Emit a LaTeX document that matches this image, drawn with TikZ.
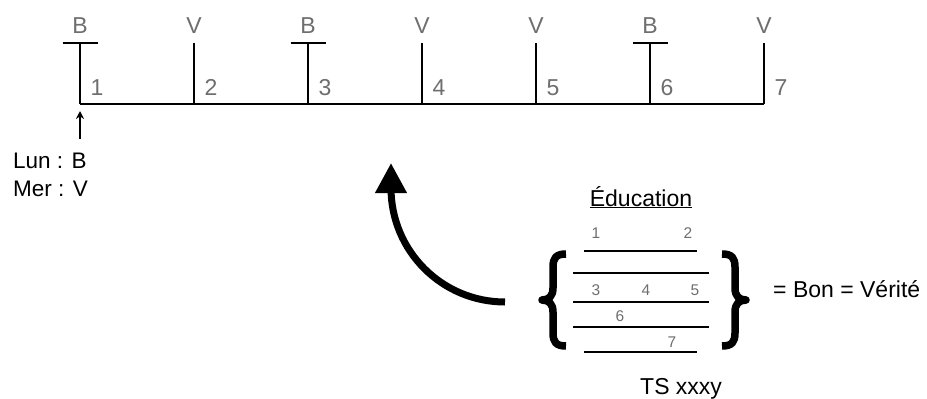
\documentclass[tikz,border=0pt]{standalone}
\usepackage{fontspec}
\setmainfont{Liberation Sans}
\usetikzlibrary{arrows.meta}
\definecolor{lbl}{HTML}{6E6E6E}
\begin{document}
\begin{tikzpicture}[x=1pt,y=-1pt,
  tl/.style={line width=1.6pt},
  toplbl/.style={text=lbl,font=\fontsize{23}{23}\selectfont,inner sep=0,anchor=base},
  txt/.style={font=\fontsize{23}{27}\selectfont,inner sep=0,anchor=base west},
  small/.style={text=lbl,font=\fontsize{15.5}{15.5}\selectfont,inner sep=0,anchor=base},
  boxline/.style={line width=1.5pt},
  brace/.style={line width=7.5pt,line join=round,line cap=butt}]
\useasboundingbox (0,0) rectangle (927,399);
% timeline
\foreach \i/\l in {1/B,2/V,3/B,4/V,5/V,6/B,7/V}{
  \coordinate (b\i) at ({80+114*(\i-1)},104);
  \coordinate (t\i) at ({80+114*(\i-1)},43);
  \node[toplbl] (L\i) at ({80+114*(\i-1)},33) {\l};
  \node[toplbl] (N\i) at ({97+114*(\i-1)},95) {\i};
}
\draw[tl] (b1) -- (b7);
\foreach \i in {1,...,7}{\draw[tl] (t\i) -- (b\i);}
\foreach \i in {1,3,6}{\draw[tl] ([xshift=-17.5pt]t\i) -- ([xshift=17.5pt]t\i);}
% small arrow
\coordinate (s0) at (80,139);
\coordinate (s1) at (80,111);
\draw[line width=1.4pt,-{Stealth[length=8pt,width=8pt]}] (s0) -- (s1);
\node[txt,font=\fontsize{22.5}{27}\selectfont] (lun) at (13,168) {Lun : B};
\node[txt,font=\fontsize{22.5}{27}\selectfont] (mer) at (13,196) {Mer : V};
% big curved arrow
\coordinate (c0) at (505,302);
\coordinate (c1) at (391,188);
\coordinate (c2) at (391,163);
\draw[line width=7pt,-{Triangle[width=30pt,length=30pt]}] (c0) .. controls (442,302) and (391,251) .. (c1) -- (c2);
% education box
\node[font=\fontsize{23}{27}\selectfont,inner sep=0,anchor=base] (edu) at (641,206) {\underline{Éducation}};
\coordinate (l1a) at (584,251); \coordinate (l1b) at (697,251);
\coordinate (l2a) at (573,273); \coordinate (l2b) at (709,273);
\coordinate (l3a) at (573,302); \coordinate (l3b) at (709,302);
\coordinate (l4a) at (573,327); \coordinate (l4b) at (709,327);
\coordinate (l5a) at (584,352); \coordinate (l5b) at (697,352);
\foreach \k in {1,...,5}{\draw[boxline] (l\k a) -- (l\k b);}
\node[small] (e1) at (596,238) {1};
\node[small] (e2) at (688,238) {2};
\node[small] (e3) at (596,295) {3};
\node[small] (e4) at (646,295) {4};
\node[small] (e5) at (695,295) {5};
\node[small] (e6) at (620,321) {6};
\node[small] (e7) at (672,347) {7};
% braces
\draw[brace] (566,254) .. controls (556,254) and (553,258) .. (553,267) -- (553,288)
  .. controls (553,296) and (549,300) .. (542,300)
  .. controls (549,300) and (553,304) .. (553,312) -- (553,333)
  .. controls (553,342) and (556,346) .. (566,346);
\draw[brace] (722,254) .. controls (732,254) and (735,258) .. (735,267) -- (735,288)
  .. controls (735,296) and (739,300) .. (746,300)
  .. controls (739,300) and (735,304) .. (735,312) -- (735,333)
  .. controls (735,342) and (732,346) .. (722,346);
\node[txt] (bon) at (773,297) {= Bon = Vérité};
\node[txt] (ts) at (640,394) {TS xxxy};
\end{tikzpicture}
\end{document}
